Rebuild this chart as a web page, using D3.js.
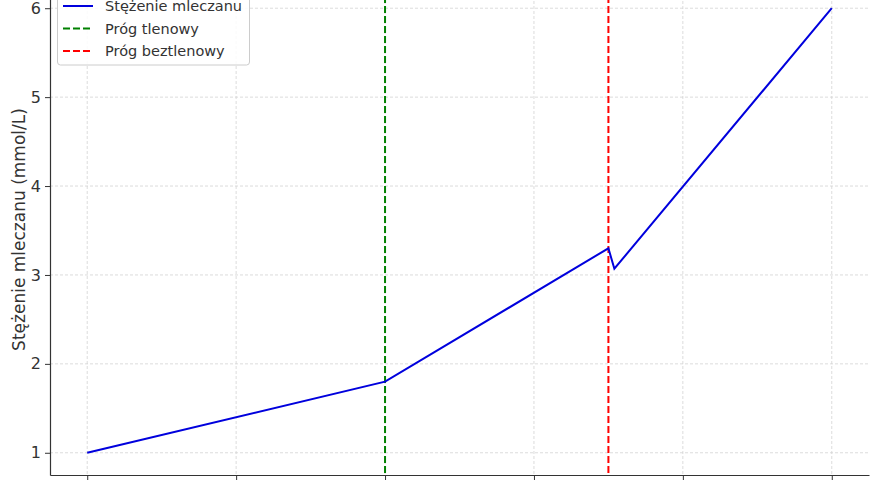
<!DOCTYPE html>
<html>
<head>
<meta charset="utf-8">
<script src="https://cdn.jsdelivr.net/npm/d3@7"></script>
<style>
  html, body { margin: 0; padding: 0; background: #fff; }
  svg { display: block; font-family: "DejaVu Sans", sans-serif; }
</style>
</head>
<body>
<svg id="chart" width="880" height="480"></svg>
<script>
// Data
const intensity = [0, 2, 3.5, 3.54, 5];
const lactate   = [1.0, 1.8, 3.3, 3.07, 6.0];
const aerobicThreshold = 2;
const anaerobicThreshold = 3.5;
const xTicks = [0, 1, 2, 3, 4, 5];
const yTicks = [1, 2, 3, 4, 5, 6];
const legendLabels = ["Stężenie mleczanu", "Próg tlenowy", "Próg beztlenowy"];
const yLabel = "Stężenie mleczanu (mmol/L)";

const svg = d3.select("#chart");
const pLeft = 50, pRight = 869, pTop = -14, pBottom = 475;

const x = d3.scaleLinear().domain([-0.25, 5.25]).range([pLeft, pRight]);
const y = d3.scaleLinear().domain([0.75, 6.25]).range([pBottom, pTop]);

// grid
const grid = svg.append("g");
grid.selectAll("line.gx").data(xTicks).enter().append("line")
  .attr("x1", d => x(d)).attr("x2", d => x(d))
  .attr("y1", pTop).attr("y2", pBottom)
  .attr("stroke", "#d3d3d3").attr("stroke-width", 0.8).attr("stroke-dasharray", "3,2");
grid.selectAll("line.gy").data(yTicks).enter().append("line")
  .attr("x1", pLeft).attr("x2", pRight)
  .attr("y1", d => y(d)).attr("y2", d => y(d))
  .attr("stroke", "#d3d3d3").attr("stroke-width", 0.8).attr("stroke-dasharray", "3,2");

// threshold lines
svg.append("line")
  .attr("x1", x(aerobicThreshold)).attr("x2", x(aerobicThreshold))
  .attr("y1", pTop).attr("y2", pBottom)
  .attr("stroke", "#008000").attr("stroke-width", 2).attr("stroke-dasharray", "7,3");
svg.append("line")
  .attr("x1", x(anaerobicThreshold)).attr("x2", x(anaerobicThreshold))
  .attr("y1", pTop).attr("y2", pBottom)
  .attr("stroke", "#ff0000").attr("stroke-width", 2).attr("stroke-dasharray", "7,3");

// lactate line
const pts = intensity.map((v, i) => [v, lactate[i]]);
svg.append("path")
  .datum(pts)
  .attr("fill", "none")
  .attr("stroke", "#0000dd")
  .attr("stroke-width", 2)
  .attr("stroke-linejoin", "miter")
  .attr("d", d3.line().x(d => x(d[0])).y(d => y(d[1])));

// axes
const yAxis = svg.append("g").attr("transform", `translate(${pLeft},0)`)
  .call(d3.axisLeft(y).tickValues(yTicks).tickFormat(d3.format("d")).tickSize(5).tickSizeOuter(0).tickPadding(4));
const xAxis = svg.append("g").attr("transform", `translate(0,${pBottom})`)
  .call(d3.axisBottom(x).tickValues(xTicks).tickFormat("").tickSize(6).tickSizeOuter(0));
[yAxis, xAxis].forEach(a => {
  a.select(".domain").attr("stroke", "#333").attr("stroke-width", 1.2);
  a.selectAll(".tick line").attr("stroke", "#333").attr("stroke-width", 1);
  a.selectAll(".tick text").attr("fill", "#333").style("font-size", "16px").style("font-family", "DejaVu Sans");
});

// y label
svg.append("text")
  .attr("transform", `translate(25,${(pTop + pBottom) / 2 - 1}) rotate(-90)`)
  .attr("text-anchor", "middle")
  .attr("fill", "#333")
  .style("font-size", "17px")
  .text(yLabel);

// legend
const lg = svg.append("g");
lg.append("rect")
  .attr("x", 57.5).attr("y", -12).attr("width", 192).attr("height", 77)
  .attr("rx", 3).attr("fill", "#fff").attr("fill-opacity", 0.85)
  .attr("stroke", "#ccc").attr("stroke-width", 1);
const legColors = ["#0000dd", "#008000", "#ff0000"];
const legDash = [null, "7,3", "7,3"];
legendLabels.forEach((lab, i) => {
  const cy = 6 + i * 22.5;
  lg.append("line").attr("x1", 63).attr("x2", 93).attr("y1", cy).attr("y2", cy)
    .attr("stroke", legColors[i]).attr("stroke-width", 2)
    .attr("stroke-dasharray", legDash[i]);
  lg.append("text").attr("x", 105).attr("y", cy + 5)
    .attr("fill", "#333").style("font-size", "14.5px").text(lab);
});
</script>
</body>
</html>
